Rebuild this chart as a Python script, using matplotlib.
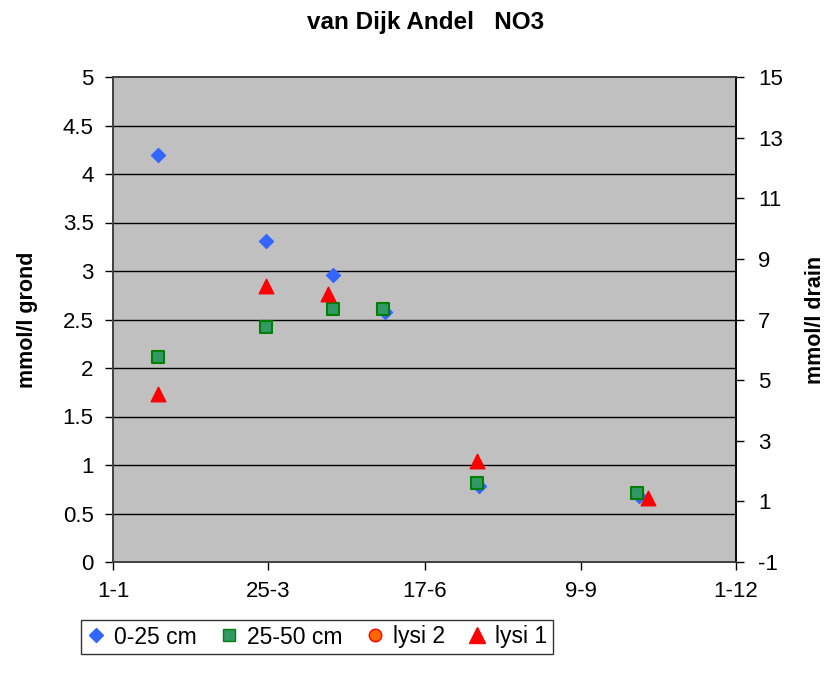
import matplotlib
matplotlib.use("Agg")
import matplotlib.pyplot as plt
from matplotlib.lines import Line2D
import datetime as dt

plt.rcParams['font.family'] = ['Liberation Sans', 'DejaVu Sans']

YEAR = 2003
def d(s):
    day, mon = s.split('-')
    return dt.date(YEAR, int(mon), int(day))

# 0-25 cm (left axis)
dates_0_25 = ["25-1", "24-3", "29-4", "27-5", "16-7", "10-10"]
vals_0_25 = [4.2, 3.31, 2.96, 2.58, 0.78, 0.68]
# 25-50 cm (left axis)
dates_25_50 = ["25-1", "24-3", "29-4", "26-5", "15-7", "9-10"]
vals_25_50 = [2.11, 2.42, 2.61, 2.61, 0.81, 0.71]
# lysi 1 (right axis)
dates_lysi1 = ["25-1", "24-3", "26-4", "15-7", "15-10"]
vals_lysi1 = [4.55, 8.1, 7.84, 2.33, 1.1]
# lysi 2 (right axis) - no visible points
dates_lysi2 = []
vals_lysi2 = []

xtick_labels = ["1-1", "25-3", "17-6", "9-9", "1-12"]
left_ticks = [0, 0.5, 1, 1.5, 2, 2.5, 3, 3.5, 4, 4.5, 5]
right_ticks = [-1, 1, 3, 5, 7, 9, 11, 13, 15]

fig = plt.figure(figsize=(8.37, 6.83), dpi=100)
ax = fig.add_axes([113/837, 1-562/683, (736-113)/837, (562-77)/683])
ax.set_facecolor('#C0C0C0')
ax2 = ax.twinx()

# gridlines
for yv in left_ticks[1:-1]:
    ax.axhline(yv, color='black', lw=1.0, zorder=1)

ax.scatter([d(s) for s in dates_0_25], vals_0_25, marker='D', s=50,
           color='#3366FF', edgecolor='#3366FF', zorder=3)
ax.scatter([d(s) for s in dates_25_50], vals_25_50, marker='s', s=80,
           color='#339966', edgecolor='#008000', linewidths=1.5, zorder=4)
ax2.scatter([d(s) for s in dates_lysi2], vals_lysi2, marker='o', s=70,
            color='#FF6600', edgecolor='#FF0000', zorder=5)
ax2.scatter([d(s) for s in dates_lysi1], vals_lysi1, marker='^', s=110,
            color='#FF0000', edgecolor='#FF0000', zorder=5)

xt = [d(s) for s in xtick_labels]
ax.set_xlim(xt[0], xt[-1])
ax.set_xticks(xt)
ax.set_xticklabels(xtick_labels)
ax.set_ylim(0, 5)
ax.set_yticks(left_ticks)
ax.set_yticklabels([f"{v:g}" for v in left_ticks])
ax2.set_ylim(-1, 15)
ax2.set_yticks(right_ticks)
ax2.set_yticklabels([str(v) for v in right_ticks])

for a in (ax, ax2):
    a.tick_params(axis='both', labelsize=16, length=6, direction='out', width=1)
    for sp in a.spines.values():
        sp.set_color('#404040')
        sp.set_linewidth(1.2)
ax.tick_params(axis='x', pad=8)
ax.tick_params(axis='y', pad=8)
ax2.tick_params(axis='y', pad=10)
ax2.spines['right'].set_color('black')

ax.set_ylabel("mmol/l grond", fontsize=15.5, fontweight='bold', labelpad=18)
ax2.set_ylabel("mmol/l drain", fontsize=15.5, fontweight='bold', rotation=90, labelpad=16)
fig.text(426/837, 1-22/683, "van Dijk Andel   NO3", ha='center', va='center',
         fontsize=17.5, fontweight='bold')

handles = [
    Line2D([], [], marker='D', ls='', color='#3366FF', markersize=7),
    Line2D([], [], marker='s', ls='', markerfacecolor='#339966', markeredgecolor='#008000', markersize=9),
    Line2D([], [], marker='o', ls='', markerfacecolor='#FF6600', markeredgecolor='#FF0000', markersize=9),
    Line2D([], [], marker='^', ls='', color='#FF0000', markersize=11),
]
labels = ["0-25 cm", "25-50 cm", "lysi 2", "lysi 1"]
leg = fig.legend(handles, labels, loc='center', bbox_to_anchor=(317/837, 1-637/683),
                 ncol=4, fontsize=16.5, frameon=True, fancybox=False, edgecolor='black',
                 handlelength=0.8, handletextpad=0.4, columnspacing=1.0, borderpad=0.25)
leg.get_frame().set_linewidth(1.0)

fig.savefig("out.png", dpi=100)
